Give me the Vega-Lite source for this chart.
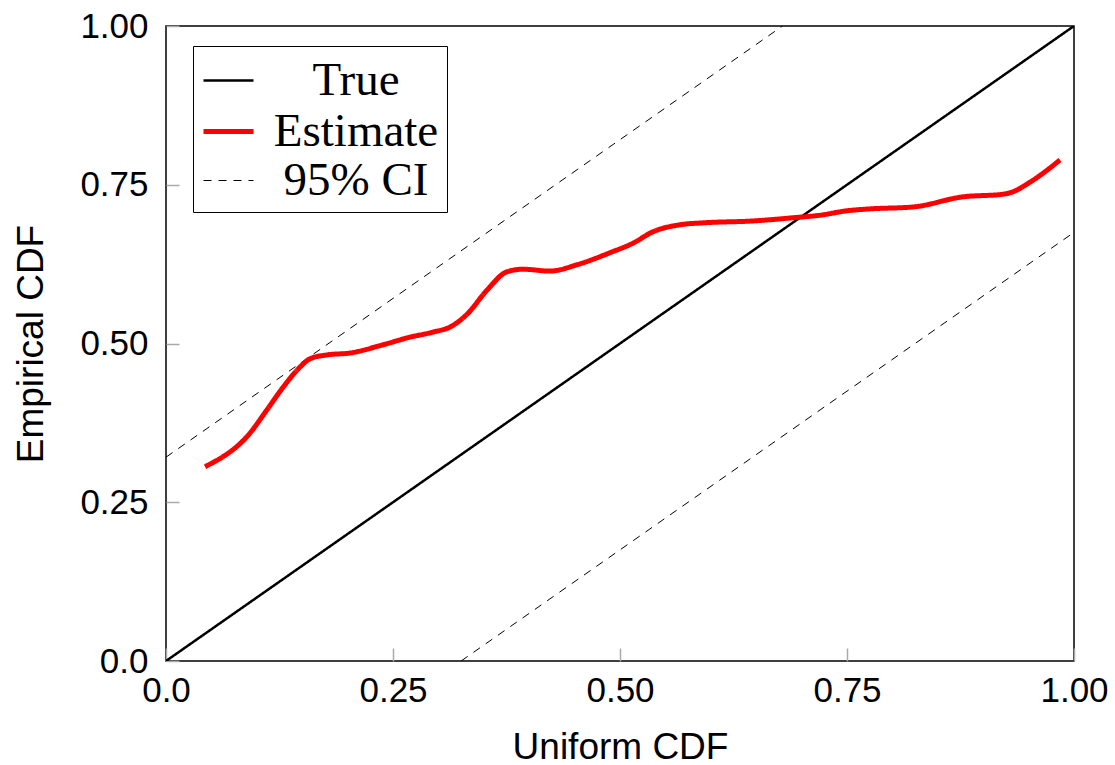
{
  "$schema": "https://vega.github.io/schema/vega-lite/v6.json",
  "width": 908,
  "height": 635,
  "autosize": {"type": "none"},
  "padding": {"left": 166, "top": 26, "right": 41, "bottom": 104},
  "background": "white",
  "data": {
    "values": [
      {"series": "True", "line": "true", "x": 0, "y": 0},
      {"series": "True", "line": "true", "x": 1, "y": 1},
      {"series": "95% CI", "line": "upper", "x": 0, "y": 0.321},
      {"series": "95% CI", "line": "upper", "x": 0.679, "y": 1},
      {"series": "95% CI", "line": "lower", "x": 0.325, "y": 0},
      {"series": "95% CI", "line": "lower", "x": 1, "y": 0.675},
      {"series": "Estimate", "line": "est", "x": 0.043, "y": 0.306},
      {"series": "Estimate", "line": "est", "x": 0.0925, "y": 0.359},
      {"series": "Estimate", "line": "est", "x": 0.1109, "y": 0.395},
      {"series": "Estimate", "line": "est", "x": 0.1289, "y": 0.431},
      {"series": "Estimate", "line": "est", "x": 0.1476, "y": 0.463},
      {"series": "Estimate", "line": "est", "x": 0.1586, "y": 0.476},
      {"series": "Estimate", "line": "est", "x": 0.177, "y": 0.482},
      {"series": "Estimate", "line": "est", "x": 0.2026, "y": 0.485},
      {"series": "Estimate", "line": "est", "x": 0.239, "y": 0.498},
      {"series": "Estimate", "line": "est", "x": 0.2687, "y": 0.51},
      {"series": "Estimate", "line": "est", "x": 0.2941, "y": 0.518},
      {"series": "Estimate", "line": "est", "x": 0.3128, "y": 0.526},
      {"series": "Estimate", "line": "est", "x": 0.3315, "y": 0.546},
      {"series": "Estimate", "line": "est", "x": 0.3535, "y": 0.584},
      {"series": "Estimate", "line": "est", "x": 0.3756, "y": 0.613},
      {"series": "Estimate", "line": "est", "x": 0.3932, "y": 0.617},
      {"series": "Estimate", "line": "est", "x": 0.4229, "y": 0.614},
      {"series": "Estimate", "line": "est", "x": 0.4526, "y": 0.624},
      {"series": "Estimate", "line": "est", "x": 0.489, "y": 0.643},
      {"series": "Estimate", "line": "est", "x": 0.5143, "y": 0.658},
      {"series": "Estimate", "line": "est", "x": 0.5363, "y": 0.676},
      {"series": "Estimate", "line": "est", "x": 0.5661, "y": 0.687},
      {"series": "Estimate", "line": "est", "x": 0.5914, "y": 0.69},
      {"series": "Estimate", "line": "est", "x": 0.6465, "y": 0.693},
      {"series": "Estimate", "line": "est", "x": 0.6905, "y": 0.698},
      {"series": "Estimate", "line": "est", "x": 0.7203, "y": 0.702},
      {"series": "Estimate", "line": "est", "x": 0.75, "y": 0.709},
      {"series": "Estimate", "line": "est", "x": 0.7753, "y": 0.712},
      {"series": "Estimate", "line": "est", "x": 0.8227, "y": 0.715},
      {"series": "Estimate", "line": "est", "x": 0.8778, "y": 0.731},
      {"series": "Estimate", "line": "est", "x": 0.9218, "y": 0.735},
      {"series": "Estimate", "line": "est", "x": 0.9328, "y": 0.739},
      {"series": "Estimate", "line": "est", "x": 0.9515, "y": 0.754},
      {"series": "Estimate", "line": "est", "x": 0.9846, "y": 0.789}
    ]
  },
  "mark": {"type": "line", "interpolate": "monotone", "clip": true},
  "encoding": {
    "x": {
      "field": "x", "type": "quantitative",
      "scale": {"domain": [0, 1], "nice": false, "zero": false},
      "axis": {
        "title": "Uniform CDF",
        "values": [0, 0.25, 0.5, 0.75, 1],
        "labelExpr": "datum.value == 0 ? '0.0' : format(datum.value, '.2f')",
        "labelFlush": false,
        "tickSize": -13,
        "labelPadding": 25,
        "titleX": 454, "titleY": 97, "titleBaseline": "alphabetic", "titleAlign": "center"
      }
    },
    "y": {
      "field": "y", "type": "quantitative",
      "scale": {"domain": [0, 1], "nice": false, "zero": false},
      "axis": {
        "title": "Empirical CDF",
        "values": [0, 0.25, 0.5, 0.75, 1],
        "labelExpr": "datum.value == 0 ? '0.0' : format(datum.value, '.2f')",
        "labelFlush": false,
        "tickSize": -13,
        "labelPadding": 31,
        "titleX": -124, "titleY": 317.5, "titleAngle": -90, "titleBaseline": "alphabetic", "titleAlign": "center"
      }
    },
    "detail": {"field": "line"},
    "color": {
      "field": "series", "type": "nominal",
      "scale": {"domain": ["True", "Estimate", "95% CI"], "range": ["#000000", "#ff0000", "#000000"]},
      "legend": {"title": null}
    },
    "strokeDash": {
      "field": "series", "type": "nominal",
      "scale": {"domain": ["True", "Estimate", "95% CI"], "range": [[1, 0], [1, 0], [8, 7]]},
      "legend": {"title": null}
    },
    "strokeWidth": {
      "field": "series", "type": "nominal",
      "scale": {"type": "ordinal", "domain": ["True", "Estimate", "95% CI"], "range": [2.5, 5, 1]},
      "legend": {"title": null}
    }
  },
  "config": {
    "view": {"stroke": "#000000", "strokeWidth": 1.5},
    "axis": {
      "domain": false,
      "grid": false,
      "tickColor": "#aaaaaa",
      "tickWidth": 1.5,
      "labelFont": "Liberation Sans",
      "labelFontSize": 35,
      "labelColor": "#000000",
      "titleFont": "Liberation Sans",
      "titleFontSize": 37,
      "titleFontWeight": "normal",
      "titleColor": "#000000"
    },
    "legend": {
      "orient": "none",
      "legendX": 27,
      "legendY": 20,
      "strokeColor": "#000000",
      "fillColor": "#ffffff",
      "padding": 8,
      "cornerRadius": 0,
      "symbolType": "stroke",
      "symbolSize": 2500,
      "labelFont": "Liberation Serif",
      "labelFontSize": 47,
      "labelColor": "#000000",
      "labelAlign": "center",
      "labelOffset": 100,
      "labelLimit": 400,
      "rowPadding": 0
    }
  }
}
